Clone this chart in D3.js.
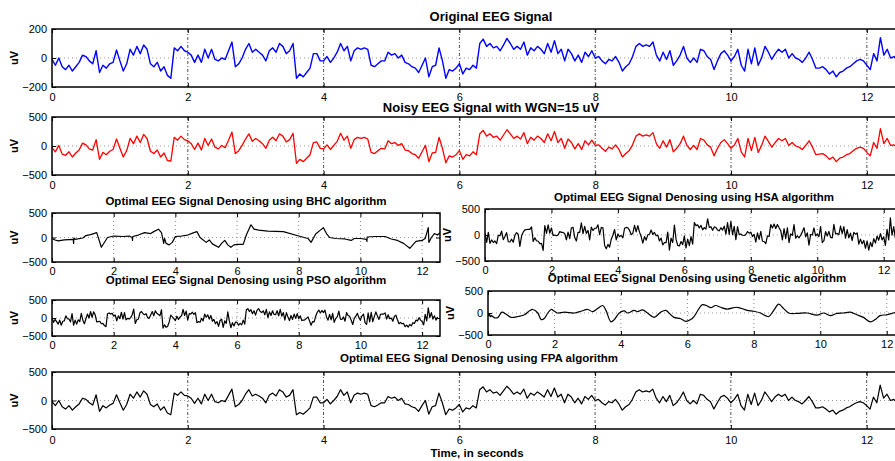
<!DOCTYPE html>
<html>
<head>
<meta charset="utf-8">
<script src="https://cdn.jsdelivr.net/npm/d3@7"></script>
<style>
  body { margin: 0; background: #fff; }
  svg { display: block; font-family: "Liberation Sans", Arial, Helvetica, sans-serif; }
</style>
</head>
<body>
<svg id="chart" width="895" height="461"></svg>
<script>
// Sampling of the stored traces (seconds between samples) and axis lengths
const SAMPLE_STEP = 0.05;
const RAW_DURATION = 12.93;     // recorded / noisy traces
const DENOISED_DURATION = 12.58; // denoised outputs

const timeTicks = [0, 2, 4, 6, 8, 10, 12];
const originalTicks = [-200, 0, 200];
const denoisedTicks = [-500, 0, 500];

// Recorded EEG trace (uV)
const originalSignal = [
  -10,-50,0,-60,-80,-50,-90,-60,-30,20,
  10,-20,-40,50,-100,-50,-70,-40,-30,55,
  -20,-90,-40,60,20,80,30,90,60,-40,
  -60,-30,-90,-60,-120,-140,70,50,80,50,
  40,20,-30,20,-30,60,0,60,-10,-20,
  0,-10,50,110,-60,-40,0,60,100,40,
  60,40,20,-20,50,70,40,100,80,30,
  50,100,-140,-110,-130,-100,-70,30,30,-20,
  -20,10,-30,0,40,100,50,80,-20,50,
  70,60,70,60,-50,-60,-40,-20,-20,40,
  20,30,0,20,-30,-40,-60,-70,-100,-50,
  0,-130,-60,-50,70,-20,-140,-80,-90,-70,
  -40,-110,-70,-80,-50,-70,100,130,80,100,
  70,80,50,90,135,100,60,80,60,110,
  20,70,50,80,60,30,100,40,120,30,
  60,-20,60,30,-20,20,-30,40,10,50,
  0,10,-20,-40,-10,-20,10,-30,-90,-60,
  -40,10,80,100,80,90,80,110,20,-20,
  40,-10,50,-50,-20,20,80,0,-30,0,
  -30,60,50,10,-10,-80,-20,30,50,20,
  -20,10,60,-50,-90,60,-40,70,-50,0,
  80,40,-10,30,60,40,60,0,30,0,
  -10,-30,0,40,-10,-70,-70,-60,-80,-110,
  -90,-130,-100,-90,-70,-60,-40,-20,-10,-20,
  -50,-80,30,-20,140,20,60,0,10,-20,
  10
];

// Trace with white Gaussian noise added (uV)
const noisySignal = [
  -30,-100,10,-140,-160,-100,-190,-120,-70,50,
  20,-50,-70,110,-230,-110,-150,-90,-60,120,
  -40,-190,-80,130,40,170,60,200,130,-90,
  -130,-70,-190,-120,-250,-260,150,100,170,110,
  90,40,-60,50,-70,130,10,120,-20,-50,
  10,-30,100,240,-130,-80,10,120,210,80,
  130,90,40,-40,100,150,90,210,170,70,
  110,220,-300,-230,-270,-210,-150,60,70,-40,
  -50,20,-60,10,80,220,100,170,-40,110,
  150,130,150,120,-110,-130,-80,-40,-50,90,
  40,60,10,40,-70,-80,-130,-150,-210,-100,
  10,-270,-120,-110,150,-40,-290,-170,-190,-150,
  -80,-230,-150,-170,-100,-150,210,270,170,210,
  150,170,100,190,280,210,130,170,120,230,
  40,150,100,170,130,60,210,90,250,60,
  130,-40,120,60,-50,40,-60,90,20,100,
  10,20,-40,-90,-20,-50,20,-60,-190,-130,
  -80,20,170,210,170,190,170,230,40,-40,
  90,-20,110,-100,-40,40,170,10,-60,10,
  -60,130,100,20,-20,-170,-40,60,110,40,
  -40,20,130,-100,-190,130,-80,150,-110,10,
  170,80,-20,60,130,90,130,10,60,0,
  -20,-60,10,90,-20,-150,-140,-130,-170,-230,
  -190,-270,-210,-190,-150,-130,-80,-40,-20,-40,
  -110,-170,60,-40,300,40,130,10,20,-40,
  20
];

// BHC output: breakpoints (s) and values (uV)
const bhcTimes = [0,0.1,0.2,0.4,0.69,0.7,0.71,0.75,1.0,1.1,1.25,1.45,1.6,1.8,2.0,2.3,2.5,2.6,2.61,2.62,2.8,3.0,3.2,3.3,3.45,3.55,3.6,3.62,3.65,3.7,3.8,3.9,4.0,4.2,4.4,4.6,4.7,4.8,5.0,5.1,5.2,5.4,5.5,5.6,5.7,5.8,5.9,6.0,6.2,6.3,6.45,6.55,6.7,7.0,7.5,8.0,8.3,8.4,8.55,8.7,8.8,8.9,9.0,9.2,9.5,9.7,9.8,10.0,10.2,10.21,10.22,10.5,10.8,11.0,11.2,11.4,11.6,11.7,11.8,12.0,12.1,12.2,12.22,12.3,12.4,12.5,12.58];
const bhcValues = [-20,-50,-70,-50,-40,-120,-10,-40,-10,40,60,100,-200,0,30,20,30,0,-60,20,50,100,80,120,170,100,-50,-120,-20,-120,-150,-100,20,30,50,100,120,0,-100,-50,-130,-200,-120,-60,-150,-200,-150,-140,-140,50,260,170,150,130,120,30,-20,-100,70,150,200,80,0,-20,-30,-60,-20,-20,-40,-80,10,20,20,-30,-60,-120,-220,-150,-80,-60,-20,200,-100,0,80,50,100];

// HSA output (uV)
const hsaSignal = [
  35,-140,50,-160,-95,-145,-115,-165,-5,-15,
  75,-90,-30,45,-130,-135,-80,-140,-5,45,
  15,-220,-20,55,100,105,110,110,155,-125,
  -55,-110,-120,-165,-160,-295,180,30,195,35,
  135,-10,0,-15,0,65,50,50,25,-95,
  55,-70,140,145,-50,-115,50,50,235,25,
  165,30,90,-95,150,85,130,130,195,5,
  145,140,-200,-265,-180,-235,-80,0,105,-95,
  15,-30,-10,-55,130,145,140,90,5,35,
  185,60,180,55,-30,-155,-30,-100,5,15,
  95,10,50,-15,0,-115,-60,-190,-145,-145,
  55,-290,-60,-145,190,-85,-200,-210,-125,-185,
  -15,-250,-80,-205,-30,-175,240,180,195,135,
  185,100,140,115,310,145,160,90,155,145,
  95,80,140,95,170,15,240,10,265,5,
  165,-90,160,5,20,-5,-10,10,65,35,
  55,-30,10,-135,40,-85,70,-120,-125,-165,
  -15,-30,200,135,210,125,200,140,85,-95,
  125,-70,140,-145,20,-5,200,-60,-15,-55,
  -5,60,140,-35,40,-195,10,0,135,-15,
  15,-30,160,-145,-110,65,-20,70,-45,-55,
  205,20,30,5,170,25,160,-60,105,-55,
  35,-110,50,15,40,-175,-80,-170,-105,-255,
  -115,-290,-140,-225,-70,-155,-20,-100,25,-95,
  -35,-200,110,-95,330,-5,160,-60,65,-95,
  75
];

// PSO output (uV)
const psoSignal = [
  0,-120,-40,-100,-170,-60,-200,-90,-80,60,
  -20,-30,-110,120,-200,-60,-170,-50,-100,130,
  -60,-160,-20,110,0,180,20,170,90,-110,
  -100,-90,-160,-150,-210,-240,120,140,110,130,
  60,80,-80,60,-20,160,-30,150,-50,-10,
  -30,10,90,250,-150,-50,-30,140,180,120,
  90,120,10,-10,80,180,60,200,130,100,
  60,230,-280,-190,-260,-230,-110,80,30,-20,
  -70,50,-40,30,60,240,70,190,-60,120,
  110,160,100,150,-130,-100,-120,-10,-80,110,
  20,90,-30,70,-90,-40,-160,-100,-230,-70,
  -30,-260,-80,-150,170,-80,-270,-130,-220,-110,
  -120,-200,-150,-190,-60,-170,230,260,180,230,
  120,200,80,220,260,180,150,200,90,240,
  10,170,70,200,100,90,200,60,240,50,
  150,-60,150,30,-70,70,-40,110,-10,120,
  -20,60,-70,-60,-50,-10,30,-80,-200,-100,
  -110,50,160,220,140,210,150,220,30,-60,
  100,-50,130,-120,-10,30,190,-30,-40,30,
  -90,150,70,50,-60,-180,-10,50,130,10,
  -60,60,110,-130,-180,140,-110,160,-100,40,
  170,60,-40,100,110,110,140,-30,90,-20,
  0,-90,40,80,-50,-160,-120,-160,-150,-240,
  -200,-250,-180,-220,-130,-150,-60,-80,10,-60,
  -100,-190,100,-80,280,10,150,-30,60,-60,
  30
];

// Genetic algorithm output: knots (s) and values (uV)
const geneticTimes = [0,0.03,0.05,0.08,0.1,0.2,0.3,0.42,0.55,0.7,0.9,1.1,1.25,1.35,1.5,1.6,1.7,1.8,1.9,2.0,2.1,2.3,2.6,2.8,3.0,3.15,3.3,3.45,3.55,3.7,3.8,3.95,4.1,4.2,4.4,4.5,4.65,4.8,5.0,5.2,5.35,5.5,5.6,5.8,5.95,6.1,6.2,6.35,6.45,6.6,6.7,6.85,7.0,7.2,7.5,7.8,8.0,8.2,8.35,8.45,8.6,8.75,8.9,9.05,9.3,9.6,9.9,10.1,10.3,10.5,10.7,10.9,11.1,11.3,11.5,11.65,11.8,12.0,12.2,12.4,12.58];
const geneticValues = [-20,-70,-30,-90,-60,-110,-100,20,-30,-100,-80,-40,50,80,0,-150,-120,0,80,40,0,20,0,40,80,30,100,170,60,-200,-150,0,50,0,60,30,70,0,-100,20,60,-40,-100,-130,-190,-150,-80,100,190,160,120,170,130,90,130,60,40,0,-60,-80,60,200,100,0,-10,0,-50,0,-60,-10,0,20,-40,-100,-200,-150,-60,-40,0,40,60];

// FPA output (uV)
const fpaSignal = [
  -20,-90,0,-110,-150,-90,-170,-110,-60,40,
  20,-40,-80,100,-190,-90,-130,-80,-50,100,
  -40,-170,-70,110,40,150,60,170,110,-70,
  -110,-60,-170,-110,-220,-250,130,90,150,90,
  80,40,-50,40,-60,110,0,110,-20,-40,
  0,-20,90,200,-110,-70,0,110,190,80,
  110,80,40,-40,90,130,80,190,150,60,
  90,190,-250,-210,-240,-190,-130,60,60,-40,
  -40,20,-60,0,70,190,90,150,-40,90,
  130,110,130,110,-90,-110,-80,-40,-40,70,
  40,60,0,40,-60,-70,-110,-130,-190,-90,
  0,-240,-110,-90,130,-40,-250,-150,-170,-130,
  -70,-200,-130,-150,-90,-130,190,240,150,190,
  130,150,90,170,250,190,110,150,110,200,
  40,130,90,150,110,60,190,70,220,60,
  110,-40,110,60,-40,40,-60,70,20,90,
  0,20,-40,-80,-20,-40,20,-60,-170,-110,
  -70,20,150,190,150,170,150,200,40,-40,
  70,-20,90,-90,-40,40,150,0,-60,0,
  -60,110,90,20,-20,-150,-40,60,90,40,
  -40,20,110,-90,-170,110,-70,130,-90,0,
  150,70,-20,60,110,70,110,0,60,0,
  -20,-60,0,70,-20,-130,-130,-110,-150,-200,
  -170,-240,-190,-170,-130,-110,-70,-40,-20,-40,
  -90,-150,60,-40,270,40,110,0,20,-40,
  20
];

const sampled = values => values.map((v, i) => [i * SAMPLE_STEP, v]);
const paired = (ts, vs) => ts.map((t, i) => [t, vs[i]]);

const panels = [
  { id: "orig", title: "Original EEG Signal", data: sampled(originalSignal), color: "#0000ff", width: 1.4,
    xMax: RAW_DURATION, left: 52, right: 930, top: 29, bottom: 87, yMax: 200, yTicks: originalTicks,
    titleY: 20.5, titleSize: 13, bigGrid: true, pad: 6 },
  { id: "noisy", title: "Noisy EEG Signal with WGN=15 uV", data: sampled(noisySignal), color: "#ff0000", width: 1.3,
    xMax: RAW_DURATION, left: 52, right: 930, top: 117, bottom: 175, yMax: 500, yTicks: denoisedTicks,
    titleY: 111.5, titleSize: 13, bigGrid: true, pad: 6 },
  { id: "bhc", title: "Optimal EEG Signal Denosing using BHC algorithm", data: paired(bhcTimes, bhcValues), color: "#000", width: 1.2,
    xMax: DENOISED_DURATION, left: 52, right: 440, top: 213, bottom: 262, yMax: 500, yTicks: denoisedTicks,
    titleY: 205, titleSize: 11.5, bigGrid: false, pad: 5 },
  { id: "hsa", title: "Optimal EEG Signal Denosing using HSA algorithm", data: sampled(hsaSignal), color: "#000", width: 1.2,
    xMax: DENOISED_DURATION, left: 485, right: 903, top: 209, bottom: 261, yMax: 500, yTicks: denoisedTicks,
    titleY: 200.5, titleSize: 11.5, bigGrid: false, pad: 5 },
  { id: "pso", title: "Optimal EEG Signal Denosing using PSO algorithm", data: sampled(psoSignal), color: "#000", width: 1.2,
    xMax: DENOISED_DURATION, left: 52, right: 440, top: 300, bottom: 336, yMax: 500, yTicks: denoisedTicks,
    titleY: 284, titleSize: 11.5, bigGrid: false, pad: 5 },
  { id: "genetic", title: "Optimal EEG Signal Denosing using Genetic algorithm", data: paired(geneticTimes, geneticValues), color: "#000", width: 1.2,
    xMax: DENOISED_DURATION, left: 488, right: 906, top: 291, bottom: 335, yMax: 500, yTicks: denoisedTicks,
    titleY: 282, titleSize: 11.5, bigGrid: false, pad: 5, smooth: true },
  { id: "fpa", title: "Optimal EEG Signal Denosing using FPA algorithm", data: sampled(fpaSignal), color: "#000", width: 1.2,
    xMax: DENOISED_DURATION, left: 52, right: 906, top: 372, bottom: 429, yMax: 500, yTicks: denoisedTicks,
    titleY: 362, titleSize: 11.5, bigGrid: true, pad: 7 }
];

const svg = d3.select("#chart");
const defs = svg.append("defs");

panels.forEach(p => {
  const x = d3.scaleLinear().domain([0, p.xMax]).range([p.left, p.right]);
  const y = d3.scaleLinear().domain([-p.yMax, p.yMax]).range([p.bottom, p.top]);
  const g = svg.append("g").attr("class", "panel-" + p.id);

  defs.append("clipPath").attr("id", "clip-" + p.id)
    .append("rect").attr("x", p.left).attr("y", p.top)
    .attr("width", p.right - p.left).attr("height", p.bottom - p.top);

  // dotted grid
  g.append("g").selectAll("line").data(timeTicks.filter(t => t > 0)).join("line")
    .attr("x1", d => x(d)).attr("x2", d => x(d))
    .attr("y1", p.top).attr("y2", p.bottom)
    .attr("stroke", p.bigGrid ? "#555" : "#888")
    .attr("stroke-width", 1)
    .attr("stroke-dasharray", p.bigGrid ? "3,2,1,2" : "1,3");
  g.append("line")
    .attr("x1", p.left).attr("x2", p.right).attr("y1", y(0)).attr("y2", y(0))
    .attr("stroke", "#999").attr("stroke-width", 1).attr("stroke-dasharray", "1,3");

  // trace
  const line = d3.line().x(d => x(d[0])).y(d => y(d[1]));
  if (p.smooth) line.curve(d3.curveCatmullRom.alpha(0.5));
  g.append("path").datum(p.data)
    .attr("clip-path", `url(#clip-${p.id})`)
    .attr("fill", "none").attr("stroke", p.color)
    .attr("stroke-width", p.width).attr("stroke-linejoin", "round")
    .attr("d", line);

  // axes with inward ticks
  const axStyle = sel => {
    sel.select(".domain").remove();
    sel.selectAll(".tick line").attr("stroke", "#000");
    sel.selectAll("text").attr("fill", "#000").style("font-size", "11px").style("font-family", "inherit");
  };
  g.append("g").attr("transform", `translate(0,${p.bottom})`)
    .call(d3.axisBottom(x).tickValues(timeTicks).tickSizeInner(-4).tickSizeOuter(0).tickPadding(p.pad))
    .call(axStyle);
  g.append("g").attr("transform", `translate(0,${p.top})`)
    .call(d3.axisTop(x).tickValues(timeTicks).tickSizeInner(-4).tickSizeOuter(0).tickFormat(""))
    .call(axStyle);
  g.append("g").attr("transform", `translate(${p.left},0)`)
    .call(d3.axisLeft(y).tickValues(p.yTicks).tickSizeInner(-4).tickSizeOuter(0).tickPadding(5))
    .call(axStyle);
  g.append("g").attr("transform", `translate(${p.right},0)`)
    .call(d3.axisRight(y).tickValues(p.yTicks).tickSizeInner(-4).tickSizeOuter(0).tickFormat(""))
    .call(axStyle);

  // frame
  g.append("rect")
    .attr("x", p.left).attr("y", p.top)
    .attr("width", p.right - p.left).attr("height", p.bottom - p.top)
    .attr("fill", "none").attr("stroke", "#000").attr("stroke-width", 1.5);

  // title and unit label
  g.append("text")
    .attr("x", (p.left + p.right) / 2).attr("y", p.titleY)
    .attr("text-anchor", "middle")
    .style("font-size", p.titleSize + "px").style("font-weight", "bold")
    .text(p.title);
  g.append("text")
    .attr("transform", `translate(${p.left - 34},${(p.top + p.bottom) / 2}) rotate(-90)`)
    .attr("text-anchor", "middle")
    .style("font-size", "11px").style("font-weight", "bold")
    .text("uV");
});

svg.append("text")
  .attr("x", 477).attr("y", 457)
  .attr("text-anchor", "middle")
  .style("font-size", "11.5px").style("font-weight", "bold")
  .text("Time, in seconds");
</script>
</body>
</html>
